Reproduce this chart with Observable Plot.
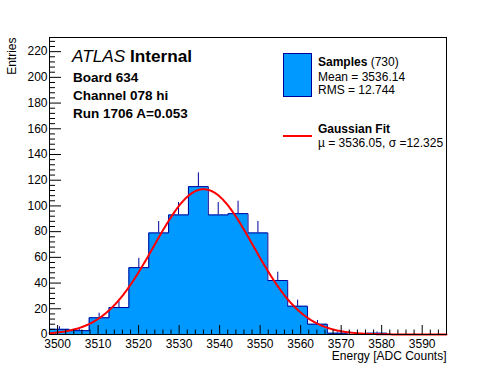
<!DOCTYPE html>
<html><head><meta charset="utf-8">
<script src="https://cdn.jsdelivr.net/npm/d3@7"></script>
<script src="https://cdn.jsdelivr.net/npm/@observablehq/plot@0.6"></script>
<style>body{margin:0;background:#fff} svg{display:block}</style>
</head><body><div id="chart"></div>
<script>
// ---- data ----
const binEdges = [3498, 3502.9, 3507.8, 3512.7, 3517.6, 3522.5, 3527.4, 3532.3, 3537.2, 3542.1, 3547,
                  3551.9, 3556.8, 3561.7, 3566.6, 3571.5, 3576.4, 3581.3, 3586.2, 3591.1, 3596];
const counts = [4, 3, 13, 21, 52, 79, 93, 115, 93, 94, 79, 42, 22, 8, 1, 0, 1, 0, 0, 0];
const xMajorTicks = [3500, 3510, 3520, 3530, 3540, 3550, 3560, 3570, 3580, 3590];
const yMajorTicks = [0, 20, 40, 60, 80, 100, 120, 140, 160, 180, 200, 220];
const xDomain = [3498, 3596];
const yDomain = [0, 231];
// Gaussian fit parameters (from the legend)
const fitMu = 3536.05, fitSigma = 12.325, fitAmplitude = 113;
const infoLines = ["Board 634", "Channel 078 hi", "Run 1706 A=0.053"];
const sampleCount = 730, sampleMean = "3536.14", sampleRMS = "12.744";

const FONT = "'Liberation Sans', Arial, Helvetica, sans-serif";
const FILL = "#0099ff", EDGE = "#000099", FITC = "#ff0000";

const bins = counts.map((n, i) => ({lo: binEdges[i], hi: binEdges[i + 1], n, c: (binEdges[i] + binEdges[i + 1]) / 2}));
const steps = binEdges.map((e, i) => ({x: e, y: counts[Math.min(i, counts.length - 1)]}));
const xMinorTicks = d3.range(3500, 3596, 2).filter(v => v % 10 !== 0);
const yMinorTicks = d3.range(4, 231, 4).filter(v => v % 20 !== 0);
const fitCurve = d3.range(xDomain[0], xDomain[1] + 0.001, 0.25).map(x => ({x, y: fitAmplitude * Math.exp(-((x - fitMu) ** 2) / (2 * fitSigma ** 2))}));

const W = 496, H = 372, mL = 49, mR = 50, mT = 37, mB = 38;
const fw = W - mL - mR, fh = H - mT - mB;

const chart = Plot.plot({
  width: W, height: H,
  marginLeft: mL, marginRight: mR, marginTop: mT, marginBottom: mB,
  style: {fontFamily: FONT, fontSize: "12px", background: "white", overflow: "visible"},
  x: {domain: xDomain},
  y: {domain: yDomain},
  marks: [
    Plot.areaY(steps, {x: "x", y: "y", curve: "step-after", fill: FILL}),
    Plot.line(steps, {x: "x", y: "y", curve: "step-after", stroke: EDGE, strokeWidth: 1}),
    Plot.ruleX(bins.filter(b => b.n > 0), {x: "c", y1: "n", y2: d => d.n + Math.sqrt(d.n), stroke: EDGE, strokeWidth: 1}),
    Plot.line(fitCurve, {x: "x", y: "y", stroke: FITC, strokeWidth: 2}),
    Plot.frame({stroke: "black", strokeWidth: 1}),
    Plot.ruleX(xMajorTicks, {x: d => d, insetTop: fh - 9, stroke: "black"}),
    Plot.ruleX(xMinorTicks, {x: d => d, insetTop: fh - 4.5, stroke: "black"}),
    Plot.ruleY(yMajorTicks, {y: d => d, insetRight: fw - 12, stroke: "black"}),
    Plot.ruleY(yMinorTicks, {y: d => d, insetRight: fw - 6, stroke: "black"}),
    Plot.axisX(xMajorTicks, {anchor: "bottom", tickSize: 0, tickPadding: 4.5, fontSize: 12, label: null, tickFormat: d => String(d)}),
    Plot.axisY(yMajorTicks, {anchor: "left", tickSize: 0, tickPadding: 2, fontSize: 12, label: null, tickFormat: d => String(d)}),
    Plot.text(["Energy [ADC Counts]"], {frameAnchor: "bottom-right", textAnchor: "end", lineAnchor: "bottom", dy: 25, fontSize: 12}),
    Plot.text(["Entries"], {frameAnchor: "top-left", textAnchor: "end", lineAnchor: "middle", rotate: -90, dx: -37, dy: 0, fontSize: 12})
  ]
});
document.getElementById("chart").appendChild(chart);

// ---- annotations & legend ----
const svg = d3.select(chart);
const g = svg.append("g").attr("font-family", FONT).attr("fill", "black").attr("text-anchor", "start").style("white-space", "pre");
function txt(x, y, size, parts) {
  const t = g.append("text").attr("x", x).attr("y", y).attr("font-size", size).attr("text-anchor", "start");
  parts.forEach(([s, w, st]) => t.append("tspan").attr("font-weight", w || "normal").attr("font-style", st || "normal").text(s));
}
txt(72, 62, 17.2, [["ATLAS", "normal", "italic"], [" Internal", "bold"]]);
infoLines.forEach((s, i) => txt(73, 82 + i * 18.2, 13.5, [[s, "bold"]]));

g.append("rect").attr("x", 283.5).attr("y", 53.5).attr("width", 28).attr("height", 43).attr("fill", FILL).attr("stroke", EDGE);
txt(318, 66, 12, [["Samples", "bold"], [` (${sampleCount})`]]);
txt(318, 80.5, 12, [[`Mean = ${sampleMean}`]]);
txt(318, 94, 12, [[`RMS = ${sampleRMS}`]]);
g.append("line").attr("x1", 283).attr("x2", 312).attr("y1", 136).attr("y2", 136).attr("stroke", FITC).attr("stroke-width", 2);
txt(318, 133, 12, [["Gaussian Fit", "bold"]]);
txt(318, 147, 12, [[`\u00b5 = ${fitMu}, \u03c3 =${fitSigma}`]]);
</script>
</body></html>
